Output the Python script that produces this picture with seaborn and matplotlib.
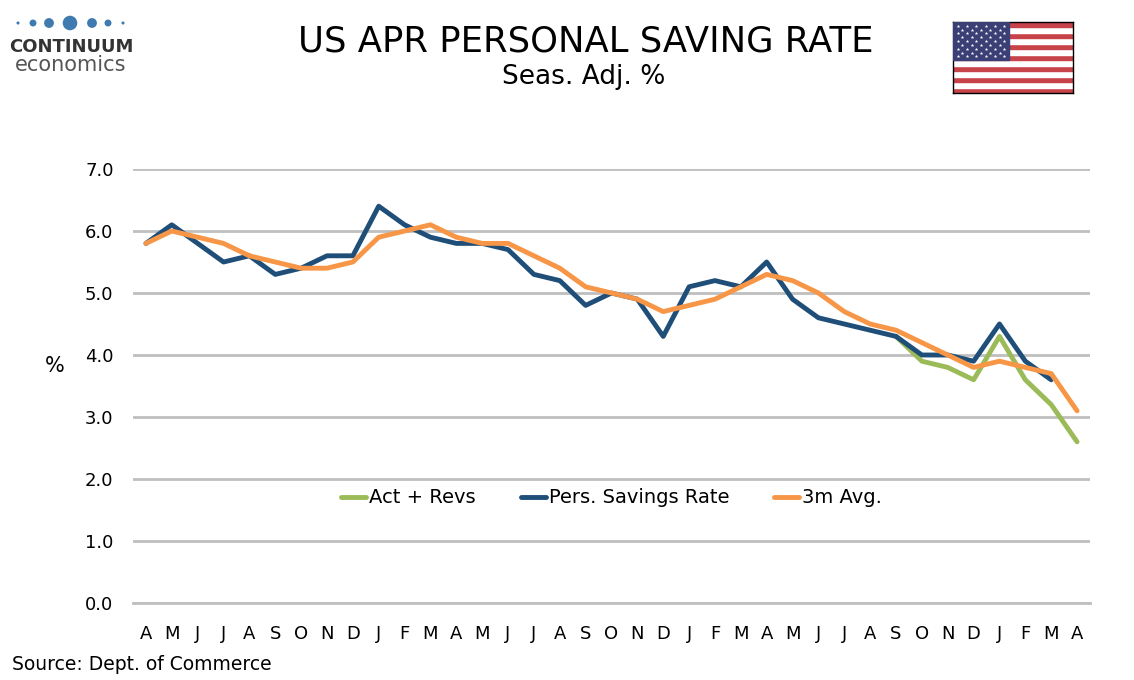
import numpy as np
import pandas as pd
import matplotlib.pyplot as plt
import seaborn as sns
from matplotlib.patches import Rectangle

# month labels, Apr to Apr (37 months)
months = ['A', 'M', 'J', 'J', 'A', 'S', 'O', 'N', 'D',
          'J', 'F', 'M', 'A', 'M', 'J', 'J', 'A', 'S', 'O', 'N', 'D',
          'J', 'F', 'M', 'A', 'M', 'J', 'J', 'A', 'S', 'O', 'N', 'D',
          'J', 'F', 'M', 'A']

# series values
act_revs = [np.nan] * 29 + [4.3, 3.9, 3.8, 3.6, 4.3, 3.6, 3.2, 2.6]
savings_rate = [5.8, 6.1, 5.8, 5.5, 5.6, 5.3, 5.4, 5.6, 5.6,
                6.4, 6.1, 5.9, 5.8, 5.8, 5.7, 5.3, 5.2, 4.8, 5.0, 4.9, 4.3,
                5.1, 5.2, 5.1, 5.5, 4.9, 4.6, 4.5, 4.4, 4.3, 4.0, 4.0, 3.9,
                4.5, 3.9, 3.6, np.nan]
avg_3m = [5.8, 6.0, 5.9, 5.8, 5.6, 5.5, 5.4, 5.4, 5.5,
          5.9, 6.0, 6.1, 5.9, 5.8, 5.8, 5.6, 5.4, 5.1, 5.0, 4.9, 4.7,
          4.8, 4.9, 5.1, 5.3, 5.2, 5.0, 4.7, 4.5, 4.4, 4.2, 4.0, 3.8,
          3.9, 3.8, 3.7, 3.1]

series_names = ['Act + Revs', 'Pers. Savings Rate', '3m Avg.']
colors = ['#9BBB59', '#1F4E79', '#F79646']

x = np.arange(len(months))
df = pd.concat([
    pd.DataFrame({'x': x, 'value': act_revs, 'series': series_names[0]}),
    pd.DataFrame({'x': x, 'value': savings_rate, 'series': series_names[1]}),
    pd.DataFrame({'x': x, 'value': avg_3m, 'series': series_names[2]}),
], ignore_index=True)

sns.set_style('white')
plt.rcParams['font.family'] = ['DejaVu Sans']
plt.rcParams['text.color'] = 'black'
plt.rcParams['xtick.color'] = 'black'
plt.rcParams['ytick.color'] = 'black'
plt.rcParams['axes.labelcolor'] = 'black'

fig = plt.figure(figsize=(11.34, 6.8), dpi=100)
ax = fig.add_axes([133 / 1134, 1 - 603 / 680, 957 / 1134, 434 / 680])

sns.lineplot(data=df, x='x', y='value', hue='series', hue_order=series_names,
             palette=colors, linewidth=3.5, ax=ax)

ax.set_xlim(-0.5, len(months) - 0.5)
ax.set_ylim(0, 7)
ax.set_yticks(np.arange(0, 7.5, 1.0))
ax.set_yticklabels([f'{v:.1f}' for v in np.arange(0, 7.5, 1.0)], fontsize=13)
ax.yaxis.grid(True, color='#BFBFBF', linewidth=2)
ax.set_axisbelow(True)

ax.set_xticks(x)
ax.set_xticklabels(months, fontsize=13)
ax.set_xticks(np.arange(-0.5, len(months), 1.0), minor=True)
ax.tick_params(axis='x', which='major', length=0, pad=16)
ax.tick_params(axis='x', which='minor', length=6, width=1.5, color='#BFBFBF',
               direction='out')
ax.tick_params(axis='y', length=0, pad=14)
for s in ['top', 'right', 'left']:
    ax.spines[s].set_visible(False)
ax.spines['bottom'].set_color('#BFBFBF')
ax.spines['bottom'].set_linewidth(2)

ax.set_xlabel('')
ax.set_ylabel('')
fig.text(55 / 1134, 1 - 366 / 680, '%', ha='center', va='center', fontsize=15)

ax.legend(loc='center', bbox_to_anchor=(0.5, 0.242), ncol=3, frameon=False,
          fontsize=14, handlelength=1.3, handletextpad=0.15, columnspacing=2.3)

# titles
fig.text(586 / 1134, 1 - 42 / 680, 'US APR PERSONAL SAVING RATE', ha='center',
         va='center', fontsize=25.5)
fig.text(584 / 1134, 1 - 77 / 680, 'Seas. Adj. %', ha='center', va='center',
         fontsize=19)
fig.text(12 / 1134, 1 - 664 / 680, 'Source: Dept. of Commerce', ha='left',
         va='center', fontsize=13.5)

# logo
logo = fig.add_axes([10 / 1134, 1 - 75 / 680, 125 / 1134, 65 / 680])
logo.set_xlim(0, 125)
logo.set_ylim(65, 0)
logo.axis('off')
dot_x = [8, 23, 39, 60, 82, 98, 113]
dot_s = [5, 25, 50, 110, 50, 25, 5]
logo.scatter(dot_x, [13] * 7, s=dot_s, color='#3F7BB0', marker='o', linewidths=0)
logo.text(61, 37, 'CONTINUUM', ha='center', va='center', fontsize=13,
          color='#333333', fontweight='bold')
logo.text(61, 55, 'economics', ha='center', va='center', fontsize=15,
          color='#555555')

# flag
flag = fig.add_axes([953 / 1134, 1 - 93 / 680, 120 / 1134, 71 / 680])
flag.set_xlim(0, 1.9)
flag.set_ylim(0, 1)
for i in range(13):
    flag.axhspan(i / 13, (i + 1) / 13, color='#C8424A' if i % 2 == 0 else 'white')
flag.add_patch(Rectangle((0, 6 / 13), 0.887, 7 / 13, color='#3A3F75', zorder=3))
sx, sy = [], []
for r in range(9):
    cols = 6 if r % 2 == 0 else 5
    off = 0.074 if r % 2 == 0 else 0.148
    for c in range(cols):
        sx.append(off + c * 0.148)
        sy.append(1 - (r + 1) * (7 / 13) / 10)
flag.scatter(sx, sy, marker='*', s=7, color='white', linewidths=0, zorder=4)
flag.set_xticks([])
flag.set_yticks([])
for s in flag.spines.values():
    s.set_color('black')
    s.set_linewidth(1)

fig.savefig('out.png', dpi=100)
